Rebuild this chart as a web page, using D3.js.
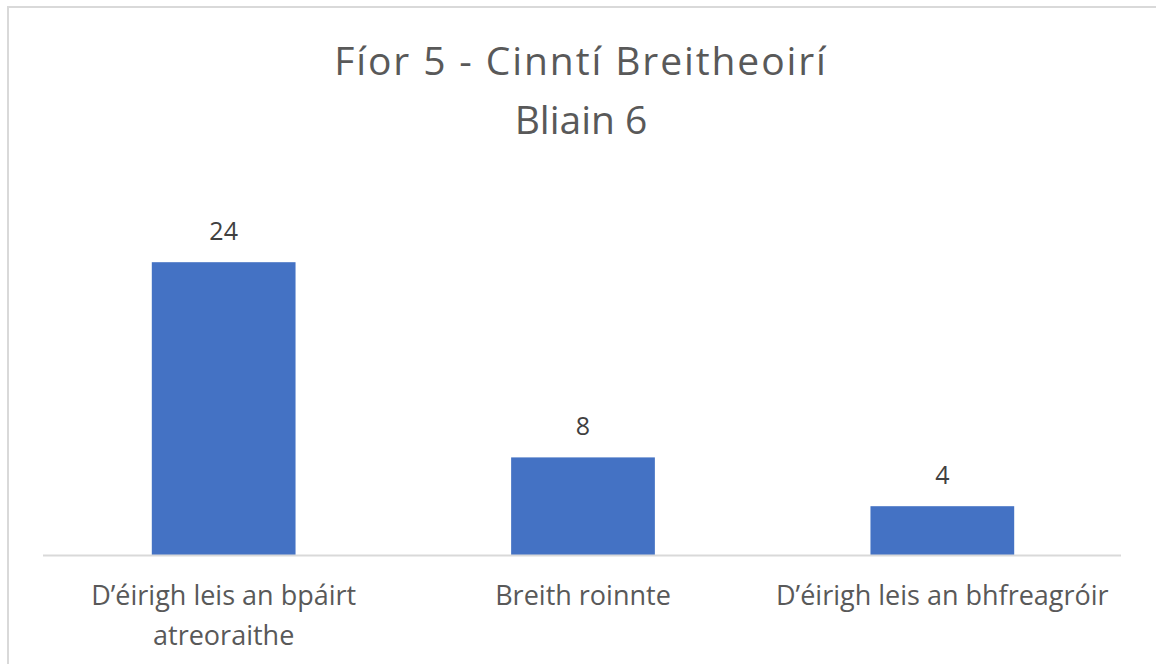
<!DOCTYPE html>
<html>
<head>
<meta charset="utf-8">
<script src="https://cdn.jsdelivr.net/npm/d3@7"></script>
<style>
  html, body { margin: 0; padding: 0; background: #fff; }
  svg { display: block; font-family: "Open Sans", sans-serif; }
</style>
</head>
<body>
<div id="chart"></div>
<script>
// Chart data
var titleLines = ["Fíor 5 - Cinntí Breitheoirí", "Bliain 6"];
var categories = ["D’éirigh leis an bpáirt atreoraithe", "Breith roinnte", "D’éirigh leis an bhfreagróir"];
var values = [24, 8, 4];
var yMax = 30;

var width = 1156, height = 664;
var textColor = "#595959";

var svg = d3.select("#chart").append("svg")
    .attr("width", width)
    .attr("height", height);

// Chart border (only top/left visible in the crop)
svg.append("rect")
    .attr("x", 8)
    .attr("y", 7)
    .attr("width", 1170)
    .attr("height", 700)
    .attr("fill", "none")
    .attr("stroke", "#d9d9d9")
    .attr("stroke-width", 2);

// Title, two lines
svg.append("g").selectAll("text.title")
    .data(titleLines)
    .enter().append("text")
    .attr("class", "title")
    .attr("x", 581)
    .attr("y", function(d, i) { return 75 + i * 59; })
    .attr("text-anchor", "middle")
    .attr("fill", textColor)
    .style("font-size", "39px")
    .style("letter-spacing", function(d, i) { return i === 0 ? "1.9px" : "0px"; })
    .text(function(d) { return d; });

// Scales
var x = d3.scaleBand()
    .domain(categories)
    .range([44, 1122])
    .paddingInner(0.6)
    .paddingOuter(0.3);

var y = d3.scaleLinear()
    .domain([0, yMax])
    .range([555, 189]);

// Bars
svg.selectAll("rect.bar")
    .data(values)
    .enter().append("rect")
    .attr("class", "bar")
    .attr("x", function(d, i) { return x(categories[i]); })
    .attr("y", function(d) { return y(d); })
    .attr("width", x.bandwidth())
    .attr("height", function(d) { return y(0) - y(d); })
    .attr("fill", "#4472c4");

// Value labels
svg.selectAll("text.value")
    .data(values)
    .enter().append("text")
    .attr("class", "value")
    .attr("x", function(d, i) { return x(categories[i]) + x.bandwidth() / 2; })
    .attr("y", function(d) { return y(d) - 22; })
    .attr("text-anchor", "middle")
    .attr("fill", "#404040")
    .style("font-size", "25px")
    .text(function(d) { return d; });

// Category axis
var xAxis = d3.axisBottom(x).tickSize(0).tickPadding(0);
var gx = svg.append("g")
    .attr("transform", "translate(0," + y(0) + ")")
    .call(xAxis);

gx.select(".domain")
    .attr("d", "M43,0.5H1121")
    .attr("stroke", "#d9d9d9")
    .attr("stroke-width", 2);

gx.selectAll(".tick text")
    .attr("fill", textColor)
    .style("font-size", "27px")
    .style("font-family", "'Open Sans', sans-serif")
    .attr("dy", null)
    .attr("y", 50)
    .call(wrap, x.step());

// Wrap long category labels onto several lines
function wrap(texts, maxWidth) {
    texts.each(function() {
        var text = d3.select(this),
            words = text.text().split(/\s+/),
            line = [],
            lineNo = 0,
            tspan = text.text(null).append("tspan").attr("x", 0).attr("y", 50);
        words.forEach(function(word) {
            line.push(word);
            tspan.text(line.join(" "));
            if (tspan.node().getComputedTextLength() > maxWidth - 20 && line.length > 1) {
                line.pop();
                tspan.text(line.join(" "));
                line = [word];
                lineNo++;
                tspan = text.append("tspan").attr("x", 0).attr("y", 50 + lineNo * 40).text(word);
            }
        });
    });
}
</script>
</body>
</html>
